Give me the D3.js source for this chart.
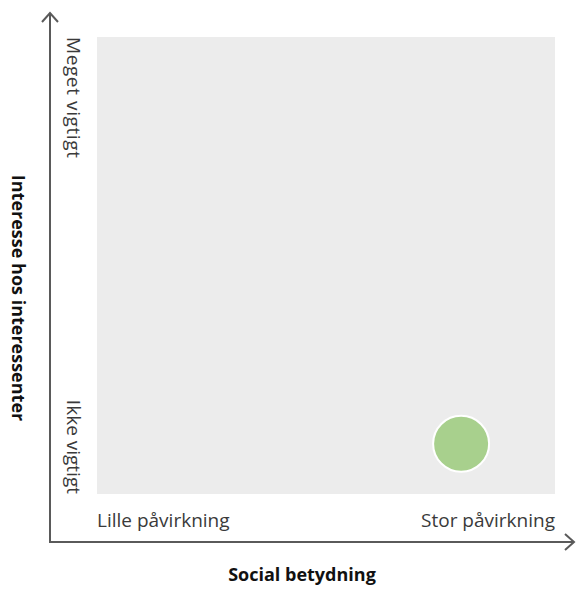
<!DOCTYPE html>
<html>
<head>
<meta charset="utf-8">
<script src="https://cdn.jsdelivr.net/npm/d3@7"></script>
<style>
  body { margin: 0; background: #fff; }
  text { font-family: "Open Sans", sans-serif; }
</style>
</head>
<body>
<script>
// axis labels
var xLabels = ["Lille påvirkning", "Stor påvirkning"];
var yLabels = ["Ikke vigtigt", "Meget vigtigt"];
var xTitle = "Social betydning";
var yTitle = "Interesse hos interessenter";

// points (0..1 on both axes)
var pointX = [0.795];
var pointY = [0.11];
var pointColor = ["#a8d08d"];

var width = 577, height = 592;

var svg = d3.select("body").append("svg")
    .attr("width", width)
    .attr("height", height);

var x = d3.scaleLinear().domain([0, 1]).range([97, 555]);
var y = d3.scaleLinear().domain([0, 1]).range([494, 37]);

// background field
svg.append("rect")
    .attr("x", x(0))
    .attr("y", y(1))
    .attr("width", x(1) - x(0))
    .attr("height", y(0) - y(1))
    .style("fill", "#ececec");

// axes with arrows
var axisColor = "#5a5a5a";
svg.append("path")
    .attr("d", "M50,13 L50,542 L574,542")
    .style("fill", "none")
    .style("stroke", axisColor)
    .style("stroke-width", 2);
svg.append("path")
    .attr("d", "M42,22 L50,13 L58,22")
    .style("fill", "none")
    .style("stroke", axisColor)
    .style("stroke-width", 2);
svg.append("path")
    .attr("d", "M565,534 L574,542 L565,550")
    .style("fill", "none")
    .style("stroke", axisColor)
    .style("stroke-width", 2);

var labelSize = "19px";

// x category labels
svg.append("text")
    .attr("x", x(0))
    .attr("y", 527)
    .attr("text-anchor", "start")
    .style("font-size", labelSize)
    .style("fill", "#3a3a3a")
    .text(xLabels[0]);
svg.append("text")
    .attr("x", x(1))
    .attr("y", 527)
    .attr("text-anchor", "end")
    .style("font-size", labelSize)
    .style("fill", "#3a3a3a")
    .text(xLabels[1]);

// y category labels (rotated, reading downwards)
svg.append("text")
    .attr("transform", "translate(67," + y(1) + ") rotate(90)")
    .attr("text-anchor", "start")
    .style("font-size", labelSize)
    .style("letter-spacing", "0.6px")
    .style("fill", "#3a3a3a")
    .text(yLabels[1]);
svg.append("text")
    .attr("transform", "translate(67," + y(0) + ") rotate(90)")
    .attr("text-anchor", "end")
    .style("font-size", labelSize)
    .style("fill", "#3a3a3a")
    .text(yLabels[0]);

// titles
svg.append("text")
    .attr("x", 302)
    .attr("y", 581)
    .attr("text-anchor", "middle")
    .style("font-size", "18px")
    .style("font-weight", "bold")
    .style("fill", "#111")
    .text(xTitle);
svg.append("text")
    .attr("transform", "translate(12,298) rotate(90)")
    .attr("text-anchor", "middle")
    .style("font-size", "18px")
    .style("font-weight", "bold")
    .style("fill", "#111")
    .text(yTitle);

// points
svg.selectAll(".pt")
    .data(pointX)
    .enter().append("circle")
    .attr("class", "pt")
    .attr("cx", function(d) { return x(d); })
    .attr("cy", function(d, i) { return y(pointY[i]); })
    .attr("r", 28)
    .style("fill", function(d, i) { return pointColor[i]; })
    .style("stroke", "#fff")
    .style("stroke-width", 2);
</script>
</body>
</html>
